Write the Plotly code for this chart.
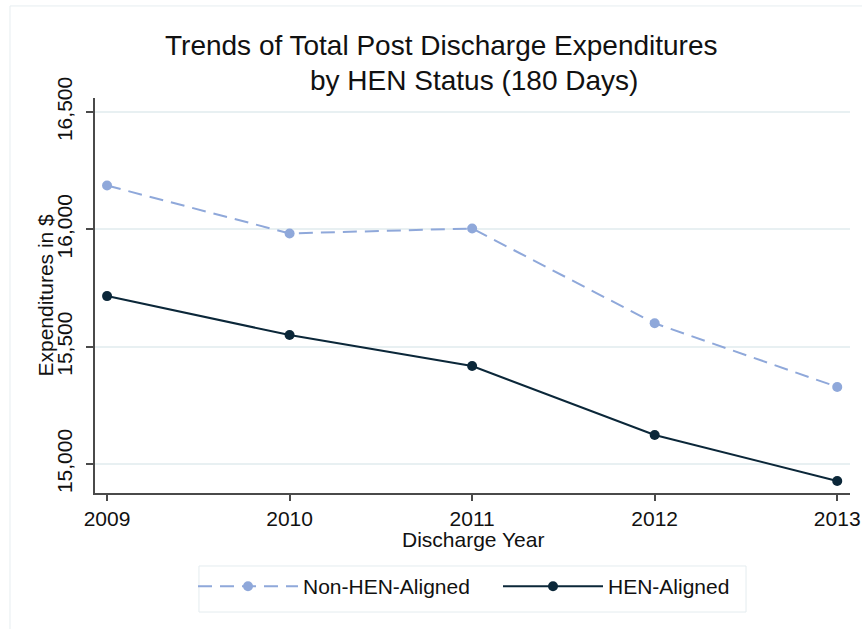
import plotly.graph_objects as go

years = [2009, 2010, 2011, 2012, 2013]
non_hen = [16187, 15983, 16004, 15600, 15329]
hen = [15716, 15550, 15418, 15124, 14928]
y_ticks = [15000, 15500, 16000, 16500]
y_tick_labels = ["15,000", "15,500", "16,000", "16,500"]
title_lines = ["Trends of Total Post Discharge Expenditures", "by HEN Status (180 Days)"]
x_title = "Discharge Year"
y_title = "Expenditures in $"

FONT = "Arial, Liberation Sans, sans-serif"
LIGHT = "#8fa8da"
DARK = "#0b2739"
GRID = "#e8f0f2"
AXIS = "#4a4a4a"
TXT = "#111111"

fig = go.Figure()
fig.add_trace(go.Scatter(
    x=years, y=non_hen, name="Non-HEN-Aligned", mode="lines+markers",
    line=dict(color=LIGHT, width=2, dash="14px,8px"),
    marker=dict(color=LIGHT, size=10),
))
fig.add_trace(go.Scatter(
    x=years, y=hen, name="HEN-Aligned", mode="lines+markers",
    line=dict(color=DARK, width=2),
    marker=dict(color=DARK, size=10),
))

fig.update_layout(
    width=862, height=629,
    margin=dict(l=95, r=12, t=98, b=136, autoexpand=False),
    paper_bgcolor="white", plot_bgcolor="white",
    font=dict(family=FONT, size=21, color=TXT),
    showlegend=True,
    legend=dict(
        orientation="h", x=0.1298, xanchor="left", y=-0.185, yanchor="top",
        borderwidth=0, entrywidth=190, itemwidth=100, bgcolor="rgba(0,0,0,0)",
        font=dict(size=21, family=FONT, color=TXT),
    ),
    xaxis=dict(
        range=[2008.934, 2013.07], tickvals=years, ticktext=[str(y) for y in years],
        showgrid=False, zeroline=False, showline=True, linecolor=AXIS, linewidth=1.5,
        ticks="outside", ticklen=6, tickcolor=AXIS, tickwidth=1.5, automargin=False,
        tickfont=dict(size=21),
    ),
    yaxis=dict(
        range=[14877, 16560], tickvals=y_ticks, ticktext=y_tick_labels, tickangle=-90,
        showgrid=True, gridcolor=GRID, gridwidth=1.5, zeroline=False, automargin=False,
        showline=True, linecolor=AXIS, linewidth=1.5, ticklabelstandoff=6,
        ticks="outside", ticklen=7, tickcolor=AXIS, tickwidth=1.5,
        tickfont=dict(size=21),
    ),
)

fig.add_annotation(text=title_lines[0], xref="paper", yref="paper", x=0.4596, y=1.134,
                   xanchor="center", yanchor="middle", showarrow=False,
                   font=dict(size=28, family=FONT, color=TXT))
fig.add_annotation(text=title_lines[1], xref="paper", yref="paper", x=0.502, y=1.045,
                   xanchor="center", yanchor="middle", showarrow=False,
                   font=dict(size=28, family=FONT, color=TXT))
fig.add_annotation(text=x_title, xref="paper", yref="paper", x=0.5, y=-0.1165,
                   xanchor="center", yanchor="middle", showarrow=False,
                   font=dict(size=21, family=FONT, color=TXT))
fig.add_annotation(text=y_title, xref="paper", yref="paper", x=-0.0662, y=0.5,
                   xanchor="center", yanchor="middle", showarrow=False, textangle=-90,
                   font=dict(size=21, family=FONT, color=TXT))

# outer frame and legend box
fig.add_shape(type="rect", xref="paper", yref="paper", x0=-0.1126, x1=1.2, y0=-0.5, y1=1.233,
              line=dict(color="#e6edf0", width=1), layer="below")
fig.add_shape(type="rect", xref="paper", yref="paper", x0=0.1377, x1=0.8623, y0=-0.3013, y1=-0.1848,
              line=dict(color="#e4ecef", width=1), layer="below")

fig.write_html("out.html", config={"displayModeBar": False},
               post_script="document.body.style.margin='0px';")
